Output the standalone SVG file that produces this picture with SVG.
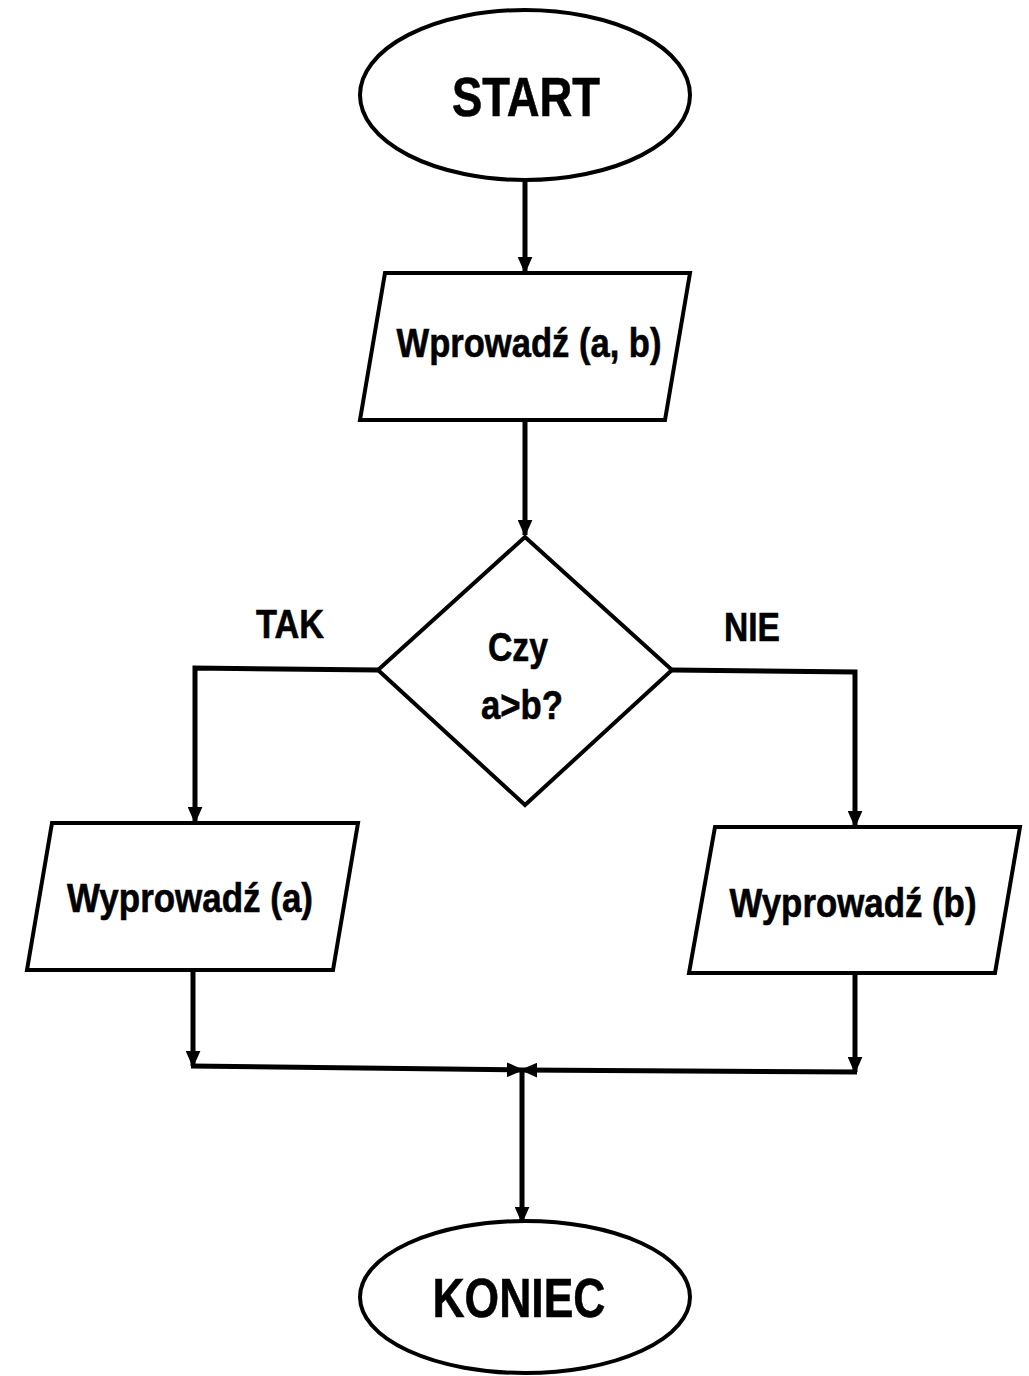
<svg xmlns="http://www.w3.org/2000/svg" width="1029" height="1376" viewBox="0 0 1029 1376">
<style>
.shape{fill:#fff;stroke:#000;stroke-width:4}
.line{fill:none;stroke:#000;stroke-width:5}
text{font-family:"Liberation Sans",Arial,sans-serif;font-weight:bold;fill:#000;text-anchor:middle;stroke:#000;stroke-width:0.6}
.big{font-size:56px}
.mid{font-size:41px}
</style>
<defs>
<marker id="arr" viewBox="0 0 10 10" refX="9" refY="5" markerWidth="3.4" markerHeight="3" preserveAspectRatio="none" orient="auto" markerUnits="strokeWidth">
<path d="M0,0 L10,5 L0,10 Z" fill="#000"/>
</marker>
</defs>
<g id="connectors">
<line class="line" x1="525" y1="181" x2="525" y2="272" marker-end="url(#arr)"/>
<line class="line" x1="525" y1="421" x2="525" y2="535" marker-end="url(#arr)"/>
<polyline class="line" points="378,670 195,668 195,822" marker-end="url(#arr)"/>
<polyline class="line" points="672,670 855,672 855,826" marker-end="url(#arr)"/>
<line class="line" x1="193" y1="971" x2="193" y2="1066" marker-end="url(#arr)"/>
<line class="line" x1="855" y1="975" x2="855" y2="1072" marker-end="url(#arr)"/>
<line class="line" x1="191" y1="1066" x2="522" y2="1070" marker-end="url(#arr)"/>
<line class="line" x1="857" y1="1072" x2="522" y2="1070" marker-end="url(#arr)"/>
<line class="line" x1="522" y1="1070" x2="522" y2="1222" marker-end="url(#arr)"/>
</g>
<g id="start">
<ellipse class="shape" cx="525" cy="95" rx="165" ry="85"/>
<text class="big" x="526" y="116" textLength="148" lengthAdjust="spacingAndGlyphs">START</text>
</g>
<g id="input">
<polygon class="shape" points="385,273 690,273 665,420 360,420"/>
<text class="mid" x="529" y="357" textLength="265" lengthAdjust="spacingAndGlyphs">Wprowadź (a, b)</text>
</g>
<g id="decision">
<polygon class="shape" points="525,537 672,670 525,805 378,670"/>
<text class="mid" x="518" y="661" textLength="60" lengthAdjust="spacingAndGlyphs">Czy</text>
<text class="mid" x="522" y="719" textLength="82" lengthAdjust="spacingAndGlyphs">a&gt;b?</text>
</g>
<g id="label-tak">
<text class="mid" x="290" y="638" textLength="68" lengthAdjust="spacingAndGlyphs">TAK</text>
</g>
<g id="label-nie">
<text class="mid" x="752" y="641" textLength="56" lengthAdjust="spacingAndGlyphs">NIE</text>
</g>
<g id="output-a">
<polygon class="shape" points="52,823 358,823 333,970 27,970"/>
<text class="mid" x="190" y="912" textLength="246" lengthAdjust="spacingAndGlyphs">Wyprowadź (a)</text>
</g>
<g id="output-b">
<polygon class="shape" points="715,827 1020,827 995,973 689,973"/>
<text class="mid" x="853" y="917" textLength="247" lengthAdjust="spacingAndGlyphs">Wyprowadź (b)</text>
</g>
<g id="end">
<ellipse class="shape" cx="525" cy="1297" rx="165" ry="76"/>
<text class="big" x="519" y="1317" textLength="173" lengthAdjust="spacingAndGlyphs">KONIEC</text>
</g>
</svg>
